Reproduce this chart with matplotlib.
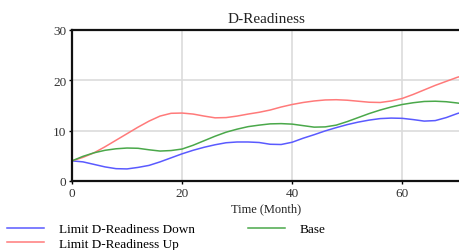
import matplotlib
matplotlib.use("Agg")
import matplotlib.pyplot as plt

# values
months = list(range(0, 74, 2))
limit_up = [4.0, 4.7, 5.6, 6.8, 8.1, 9.4, 10.7, 11.9, 12.9, 13.45, 13.5, 13.3,
            12.9, 12.55, 12.6, 12.9, 13.3, 13.65, 14.1, 14.7, 15.2, 15.6, 15.9,
            16.1, 16.15, 16.05, 15.85, 15.65, 15.6, 15.9, 16.4, 17.2, 18.1,
            19.0, 19.8, 20.6, 21.2]
base = [4.0, 4.9, 5.6, 6.1, 6.4, 6.55, 6.5, 6.2, 5.95, 6.05, 6.35, 7.1, 8.0,
        8.9, 9.7, 10.3, 10.8, 11.1, 11.35, 11.4, 11.3, 11.0, 10.7, 10.75, 11.1,
        11.8, 12.6, 13.4, 14.1, 14.7, 15.2, 15.55, 15.8, 15.85, 15.75, 15.5,
        15.2]
limit_down = [4.0, 3.8, 3.3, 2.8, 2.45, 2.4, 2.7, 3.1, 3.8, 4.6, 5.4, 6.1, 6.7,
              7.2, 7.6, 7.75, 7.75, 7.65, 7.3, 7.25, 7.7, 8.5, 9.2, 9.95, 10.6,
              11.2, 11.7, 12.1, 12.4, 12.5, 12.45, 12.2, 11.9, 12.0, 12.6, 13.4,
              14.0]
x_ticks = [0, 20, 40, 60]
y_ticks = [0, 10, 20, 30]

plt.rcParams['font.family'] = ['Liberation Serif', 'DejaVu Serif']

fig = plt.figure(figsize=(4.6, 2.51), dpi=100)
ax = fig.add_axes([72 / 460, 1 - 182 / 251, 1 - 72 / 460, (182 - 31) / 251])

ax.plot(months, limit_down, color='#5a5aff', lw=1.1, label='Limit D-Readiness Down')
ax.plot(months, limit_up, color='#ff7a7a', lw=1.1, label='Limit D-Readiness Up')
ax.plot(months, base, color='#4aa84a', lw=1.1, label='Base')

ax.set_xlim(0, 70.5)
ax.set_ylim(0, 30)
ax.set_xticks(x_ticks)
ax.set_yticks(y_ticks)
ax.grid(True, color='#dcdcdc', lw=1.2)
ax.set_axisbelow(True)

for side in ['left', 'bottom', 'top']:
    ax.spines[side].set_linewidth(1.6)
    ax.spines[side].set_color('#111111')
ax.spines['right'].set_visible(False)
ax.tick_params(length=2, width=1, labelsize=9.5, labelcolor='#333333', pad=2)

ax.set_title('D-Readiness', fontsize=11, color='#222222', pad=6)
ax.set_xlabel('Time (Month)', fontsize=9, color='#222222', labelpad=3)

fig.legend(loc='upper left', bbox_to_anchor=(7 / 460, 1 - 224 / 251), ncol=2,
           frameon=False, fontsize=9.5, handlelength=2.8, handletextpad=1.15,
           columnspacing=4.0, borderpad=0, borderaxespad=0, labelspacing=0.2)

fig.savefig('out.png', dpi=100)
